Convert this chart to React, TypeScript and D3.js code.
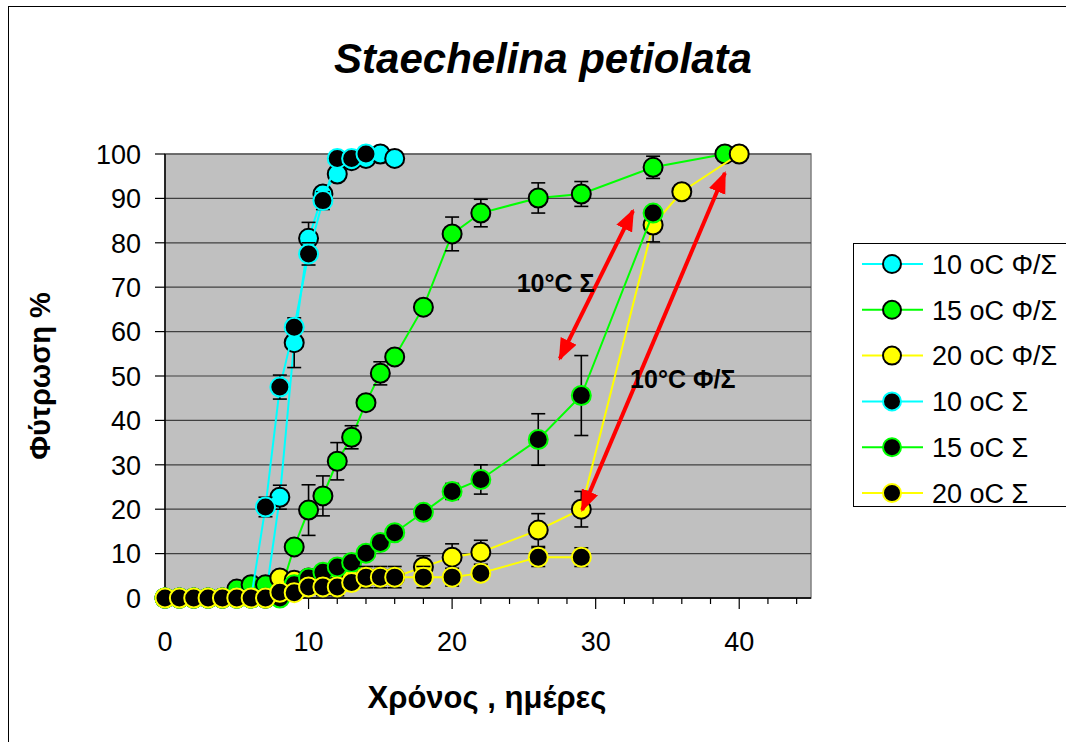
import React from 'react';
import * as d3 from 'd3';

// days (x) and germination % (y) for each series
const days10fs = [0, 1, 2, 3, 4, 5, 6, 7, 8, 9, 10, 11, 12, 13, 14, 15, 16];
const val10fs = [0, 0, 0, 0, 0, 0, 0, 0, 22.7, 57.5, 81, 91, 95.5, 98.5, 99, 100, 99];
const err10fs = [0, 0, 0, 0, 0, 0, 0, 0, 2.7, 5.6, 3.6, 1.3, 0, 0, 0, 0, 0];

const days15fs = [0, 1, 2, 3, 4, 5, 6, 7, 8, 9, 10, 11, 12, 13, 14, 15, 16, 18, 20, 22, 26, 29, 34, 39];
const val15fs = [0, 0, 0, 0, 0, 2, 3, 3, 1, 11.5, 19.8, 23, 30.8, 36.2, 44, 50.6, 54.3, 65.5, 82, 86.7, 90.1, 91, 97, 100];
const err15fs = [0, 0, 0, 0, 0, 0, 0, 0, 0, 0, 5.7, 4.5, 4.2, 2.6, 0, 2.6, 0, 0, 3.8, 3.1, 3.4, 2.8, 2.5, 0];

const days20fs = [0, 1, 2, 3, 4, 5, 6, 7, 8, 9, 10, 11, 12, 13, 14, 15, 16, 18, 20, 22, 26, 29, 34, 36, 40];
const val20fs = [0, 0, 0, 0, 0, 0, 0, 0, 4.5, 4, 4.5, 4.5, 4.5, 4.5, 4.7, 4.7, 4.7, 7, 9.2, 10.3, 15.3, 20, 84, 91.5, 100];
const err20fs = [0, 0, 0, 0, 0, 0, 0, 0, 1.5, 1.5, 1.5, 0, 0, 0, 0, 0, 0, 2.5, 3, 2.7, 3.7, 4, 3.8, 0, 0];

const days10s = [0, 1, 2, 3, 4, 5, 6, 7, 8, 9, 10, 11, 12, 13, 14];
const val10s = [0, 0, 0, 0, 0, 0, 0, 20.5, 47.5, 61, 77.5, 89.5, 99, 99, 100];
const err10s = [0, 0, 0, 0, 0, 0, 0, 2.2, 2.7, 1.5, 2.5, 2, 0.5, 0, 0];

const days15s = [0, 1, 2, 3, 4, 5, 6, 7, 8, 9, 10, 11, 12, 13, 14, 15, 16, 18, 20, 22, 26, 29, 34];
const val15s = [0, 0, 0, 0, 0, 0, 0, 0, 0, 3, 4.5, 5.8, 7, 8, 10.1, 12.5, 14.7, 19.3, 24, 26.7, 35.7, 45.6, 86.7];
const err15s = [0, 0, 0, 0, 0, 0, 0, 0, 0, 0, 0, 0, 0, 0, 0, 0, 0, 0, 1.8, 3.3, 5.8, 9, 0];

const days20s = [0, 1, 2, 3, 4, 5, 6, 7, 8, 9, 10, 11, 12, 13, 14, 15, 16, 18, 20, 22, 26, 29];
const val20s = [0, 0, 0, 0, 0, 0, 0, 0, 1.3, 1.2, 2.5, 2.5, 2.5, 3.5, 4.7, 4.7, 4.7, 4.7, 4.7, 5.6, 9.2, 9.2];
const err20s = [0, 0, 0, 0, 0, 0, 0, 0, 0, 0, 0, 2, 2, 0, 2.4, 2.4, 2.4, 2.4, 2, 1, 2.1, 2.1];

const seriesNames = ['10 oC Φ/Σ', '15 oC Φ/Σ', '20 oC Φ/Σ', '10 oC Σ', '15 oC Σ', '20 oC Σ'];

const yTicks = [0, 10, 20, 30, 40, 50, 60, 70, 80, 90, 100];
const xTicks = [0, 10, 20, 30, 40];

// annotation arrows (data coords) and labels
const arrowSigma = [[27.5, 53.9], [32.6, 87.2]];
const arrowFS = [[29.06, 19.8], [39.0, 95.7]];
const labelSigma = { x: 24.5, y: 69, text: '10°C Σ' };
const labelFS = { x: 32.4, y: 47.4, text: '10°C Φ/Σ' };

const FONT = "'Liberation Sans', Arial, sans-serif";

export default function App() {
  const width = 1066;
  const height = 742;
  const plot = { left: 165, right: 811, top: 154, bottom: 598 };

  const x = d3.scaleLinear().domain([0, 45]).range([plot.left, plot.right]);
  const y = d3.scaleLinear().domain([0, 100]).range([plot.bottom, plot.top]);

  const series = [
    { name: seriesNames[0], days: days10fs, vals: val10fs, errs: err10fs, line: '#00FFFF', fill: '#00FFFF', stroke: '#000' },
    { name: seriesNames[1], days: days15fs, vals: val15fs, errs: err15fs, line: '#00FF00', fill: '#00FF00', stroke: '#000' },
    { name: seriesNames[2], days: days20fs, vals: val20fs, errs: err20fs, line: '#FFFF00', fill: '#FFFF00', stroke: '#000' },
    { name: seriesNames[3], days: days10s, vals: val10s, errs: err10s, line: '#00FFFF', fill: '#000', stroke: '#00FFFF' },
    { name: seriesNames[4], days: days15s, vals: val15s, errs: err15s, line: '#00FF00', fill: '#000', stroke: '#00FF00' },
    { name: seriesNames[5], days: days20s, vals: val20s, errs: err20s, line: '#FFFF00', fill: '#000', stroke: '#FFFF00' },
  ];

  const line = d3.line<[number, number]>().x(d => x(d[0])).y(d => y(d[1]));
  const minorTicks = d3.range(0, 46, 2);

  return (
    <svg width={width} height={height} style={{ display: 'block', position: 'absolute', left: 0, top: 0 }}>
      <defs>
        <marker id="ah" viewBox="0 0 10 8" refX="9" refY="4" markerWidth="5.5" markerHeight="4.5" orient="auto-start-reverse">
          <path d="M0,0 L10,4 L0,8 Z" fill="#FF0000" />
        </marker>
      </defs>
      <rect x={0} y={0} width={width} height={height} fill="#fff" />
      <rect x={8.5} y={6.5} width={width + 10} height={height + 10} fill="#fff" stroke="#000" strokeWidth={1} />

      <text x={543} y={73} textAnchor="middle" fontFamily={FONT} fontSize={42} fontWeight="bold" fontStyle="italic">
        Staechelina petiolata
      </text>

      {/* plot area */}
      <rect x={plot.left} y={plot.top} width={plot.right - plot.left} height={plot.bottom - plot.top} fill="#C0C0C0" stroke="#808080" strokeWidth={1.5} />
      {yTicks.map(t => (
        <g key={'gy' + t}>
          <line x1={plot.left} x2={plot.right} y1={y(t)} y2={y(t)} stroke="#404040" strokeWidth={1.2} />
          <line x1={plot.left - 10} x2={plot.left} y1={y(t)} y2={y(t)} stroke="#000" strokeWidth={1.2} />
          <text x={plot.left - 24} y={y(t)} dy="0.36em" textAnchor="end" fontFamily={FONT} fontSize={27}>{t}</text>
        </g>
      ))}
      <line x1={plot.left} x2={plot.left} y1={plot.top} y2={plot.bottom} stroke="#000" strokeWidth={1.5} />
      <line x1={plot.left} x2={plot.right} y1={plot.bottom} y2={plot.bottom} stroke="#000" strokeWidth={1.5} />
      {minorTicks.map(t => (
        <line key={'mx' + t} x1={x(t)} x2={x(t)} y1={plot.bottom} y2={plot.bottom + (t % 10 === 0 ? 11 : 6)} stroke="#000" strokeWidth={1.2} />
      ))}
      {xTicks.map(t => (
        <text key={'xl' + t} x={x(t)} y={651} textAnchor="middle" fontFamily={FONT} fontSize={27}>{t}</text>
      ))}

      {/* series */}
      {series.map((s, si) => {
        const pts = s.days.map((d, i) => [d, s.vals[i]] as [number, number]);
        return (
          <g key={'s' + si}>
            <path d={line(pts) || ''} fill="none" stroke={s.line} strokeWidth={2} />
            {pts.map((p, i) => s.errs[i] > 0 ? (
              <g key={'e' + i} stroke="#000" strokeWidth={1.6}>
                <line x1={x(p[0])} x2={x(p[0])} y1={y(p[1] - s.errs[i])} y2={y(p[1] + s.errs[i])} />
                <line x1={x(p[0]) - 7} x2={x(p[0]) + 7} y1={y(p[1] - s.errs[i])} y2={y(p[1] - s.errs[i])} />
                <line x1={x(p[0]) - 7} x2={x(p[0]) + 7} y1={y(p[1] + s.errs[i])} y2={y(p[1] + s.errs[i])} />
              </g>
            ) : null)}
            {pts.map((p, i) => (
              <circle key={'c' + i} cx={x(p[0])} cy={y(p[1])} r={9.5} fill={s.fill} stroke={s.stroke} strokeWidth={2} />
            ))}
          </g>
        );
      })}

      {/* annotations */}
      <line x1={x(arrowSigma[0][0])} y1={y(arrowSigma[0][1])} x2={x(arrowSigma[1][0])} y2={y(arrowSigma[1][1])}
        stroke="#FF0000" strokeWidth={4} markerStart="url(#ah)" markerEnd="url(#ah)" />
      <line x1={x(arrowFS[0][0])} y1={y(arrowFS[0][1])} x2={x(arrowFS[1][0])} y2={y(arrowFS[1][1])}
        stroke="#FF0000" strokeWidth={4} markerStart="url(#ah)" markerEnd="url(#ah)" />
      <text x={x(labelSigma.x)} y={y(labelSigma.y)} fontFamily={FONT} fontSize={25} fontWeight="bold">{labelSigma.text}</text>
      <text x={x(labelFS.x)} y={y(labelFS.y)} fontFamily={FONT} fontSize={25} fontWeight="bold">{labelFS.text}</text>

      {/* axis titles */}
      <text x={487} y={708} textAnchor="middle" fontFamily={FONT} fontSize={31} fontWeight="bold">Χρόνος , ημέρες</text>
      <text transform="translate(50,376) rotate(-90)" textAnchor="middle" fontFamily={FONT} fontSize={29} fontWeight="bold">Φύτρωση %</text>

      {/* legend */}
      <rect x={853.5} y={243.5} width={230} height={263} fill="#fff" stroke="#000" strokeWidth={1} />
      {series.map((s, i) => {
        const ly = 264 + i * 45.8;
        return (
          <g key={'l' + i}>
            <line x1={862} x2={923} y1={ly} y2={ly} stroke={s.line} strokeWidth={2} />
            <circle cx={892} cy={ly} r={9} fill={s.fill} stroke={s.stroke} strokeWidth={2} />
            <text x={932} y={ly} dy="0.36em" fontFamily={FONT} fontSize={27}>{s.name}</text>
          </g>
        );
      })}
    </svg>
  );
}
